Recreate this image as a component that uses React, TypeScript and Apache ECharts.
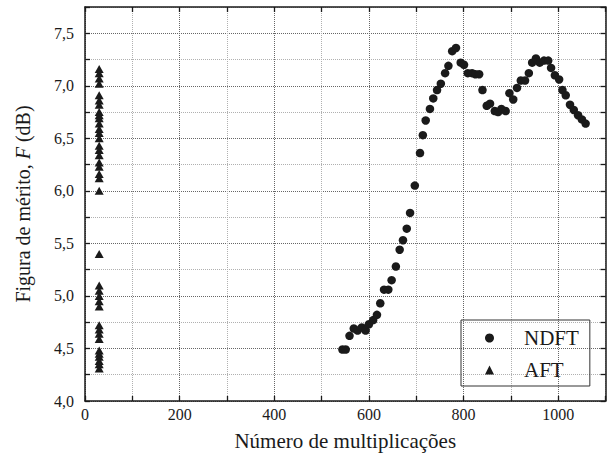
import React, { useEffect, useRef } from "react";
import * as echarts from "echarts";

const ndftX = [544, 551, 559, 568, 576, 585, 593, 600, 609, 617, 624, 632, 641, 648, 657, 665, 672, 680, 687, 697, 708, 714, 720, 729, 736, 744, 752, 761, 768, 776, 784, 794, 801, 809, 818, 825, 833, 840, 849, 856, 866, 873, 880, 889, 897, 905, 913, 921, 930, 938, 945, 953, 961, 970, 979, 985, 993, 1002, 1009, 1016, 1025, 1033, 1042, 1050, 1058];
const ndftY = [4.49, 4.49, 4.62, 4.69, 4.67, 4.70, 4.67, 4.73, 4.77, 4.82, 4.93, 5.06, 5.06, 5.15, 5.28, 5.44, 5.53, 5.64, 5.79, 6.05, 6.36, 6.53, 6.67, 6.78, 6.88, 6.96, 7.02, 7.12, 7.19, 7.33, 7.36, 7.22, 7.20, 7.12, 7.12, 7.11, 7.11, 6.96, 6.81, 6.83, 6.76, 6.75, 6.78, 6.76, 6.93, 6.87, 6.98, 7.05, 7.05, 7.12, 7.22, 7.26, 7.22, 7.24, 7.24, 7.17, 7.10, 7.06, 6.96, 6.91, 6.82, 6.77, 6.72, 6.68, 6.64];
const aftX = 30;
const aftY = [7.16, 7.12, 7.07, 7.02, 6.91, 6.86, 6.82, 6.75, 6.72, 6.69, 6.64, 6.59, 6.55, 6.50, 6.43, 6.39, 6.34, 6.27, 6.23, 6.16, 6.12, 6.00, 5.40, 5.10, 5.05, 5.00, 4.95, 4.90, 4.72, 4.68, 4.64, 4.59, 4.48, 4.45, 4.42, 4.38, 4.35, 4.31];

const xTitle = "Número de multiplicações";
const yTitle = "Figura de mérito, {i|F} (dB)";

const FONT = "Liberation Serif, 'Times New Roman', serif";
const INK = "#1a1a1a";

export default function App() {
  const ref = useRef<HTMLDivElement>(null);
  useEffect(() => {
    if (!ref.current) return;
    const chart = echarts.init(ref.current, undefined, { renderer: "svg" });
    const axisLine = { show: true, onZero: false, lineStyle: { color: INK, width: 1.5 } };
    const tick = { show: true, inside: true, length: 5, lineStyle: { color: INK, width: 1.3 } };
    const xBase = { type: "value", min: 0, max: 1100, interval: 100 };
    const yBase = { type: "value", min: 4, max: 7.75, interval: 0.25 };
    chart.setOption({
      animation: false,
      backgroundColor: "#fff",
      grid: { left: 85, right: 10.5, top: 7, bottom: 61, containLabel: false },
      legend: {
        orient: "vertical",
        left: 461,
        top: 320,
        borderColor: "#333",
        borderWidth: 1,
        padding: [6, 11, 4, 24],
        itemWidth: 9,
        itemHeight: 9,
        itemGap: 8,
        textStyle: { fontFamily: FONT, fontSize: 21, color: INK, lineHeight: 24, padding: [0, 0, 0, 25] },
        data: ["NDFT", "AFT"],
      },
      xAxis: [
        {
          ...xBase,
          position: "bottom",
          name: xTitle,
          nameLocation: "middle",
          nameGap: 29,
          nameTextStyle: { fontFamily: FONT, fontSize: 21, color: INK },
          axisLine,
          axisTick: tick,
          axisLabel: {
            fontFamily: FONT,
            fontSize: 16,
            color: INK,
            margin: 5,
            formatter: (v: number) => (Math.round(v) % 200 === 0 && v < 1100 ? String(v) : ""),
          },
          splitLine: { show: true, lineStyle: { type: "dotted", color: ["#666", "#b0b0b0"], width: 1 } },
        },
        {
          ...xBase,
          position: "top",
          axisLine,
          axisTick: tick,
          axisLabel: { show: false },
          splitLine: { show: false },
        },
      ],
      yAxis: [
        {
          ...yBase,
          position: "left",
          name: yTitle,
          nameLocation: "middle",
          nameGap: 52,
          nameTextStyle: {
            fontFamily: FONT,
            fontSize: 20,
            color: INK,
            rich: { i: { fontFamily: FONT, fontSize: 20, fontStyle: "italic", color: INK } },
          },
          axisLine,
          axisTick: tick,
          axisLabel: {
            fontFamily: FONT,
            fontSize: 16,
            color: INK,
            margin: 11,
            formatter: (v: number) => (Math.round(v * 4) % 2 === 0 ? v.toFixed(1).replace(".", ",") : ""),
          },
          splitLine: { show: true, lineStyle: { type: "dotted", color: ["#666", "#b0b0b0"], width: 1 } },
        },
        {
          ...yBase,
          position: "right",
          axisLine,
          axisTick: tick,
          axisLabel: { show: false },
          splitLine: { show: false },
        },
      ],
      series: [
        {
          name: "NDFT",
          type: "scatter",
          xAxisIndex: 0,
          yAxisIndex: 0,
          symbol: "circle",
          symbolSize: 8.5,
          itemStyle: { color: INK, opacity: 1 },
          data: ndftX.map((x, i) => [x, ndftY[i]]),
        },
        {
          name: "AFT",
          type: "scatter",
          xAxisIndex: 0,
          yAxisIndex: 0,
          symbol: "triangle",
          symbolSize: [9, 8],
          itemStyle: { color: INK, opacity: 1 },
          data: aftY.map((y) => [aftX, y]),
        },
      ],
    });
    return () => chart.dispose();
  }, []);
  return <div ref={ref} style={{ position: "fixed", left: 0, top: 0, width: 616, height: 462 }} />;
}
